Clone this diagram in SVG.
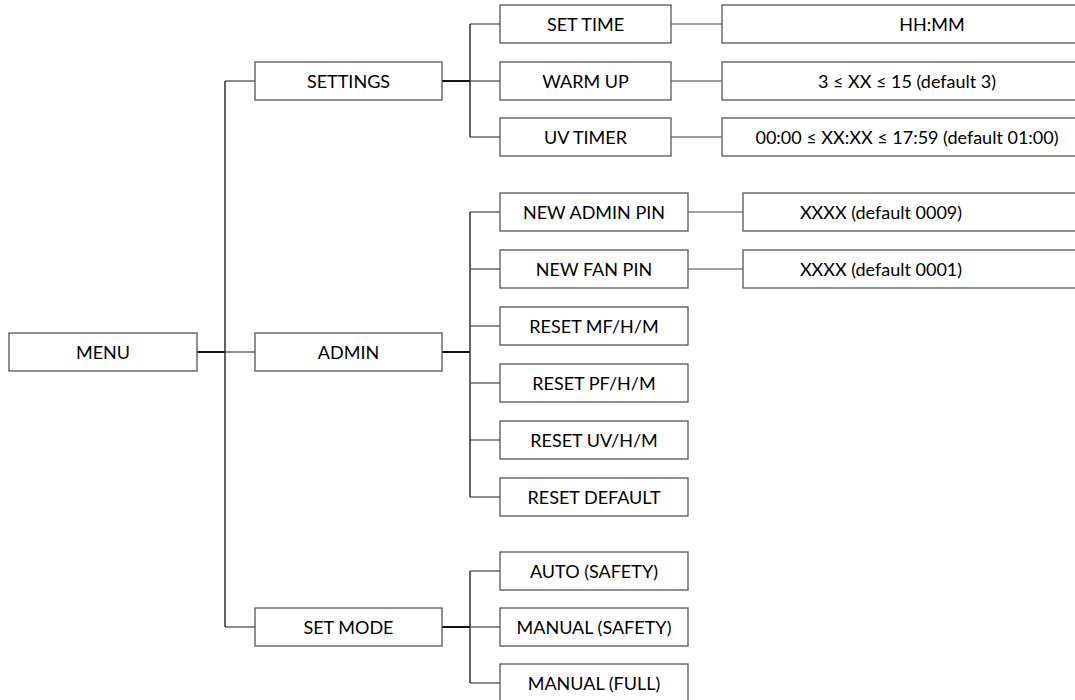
<svg xmlns="http://www.w3.org/2000/svg" width="1075" height="700" viewBox="0 0 1075 700">
<style>
.box{fill:#fff;stroke:#555;stroke-width:1.3}
.t{font-family:Lato,"Liberation Sans",sans-serif;font-size:18px;fill:#000;text-anchor:middle;dominant-baseline:central}
.ln{stroke:#444;stroke-width:1.2;fill:none}
.tk{stroke:#111;stroke-width:2;fill:none}
.tr{stroke:#222;stroke-width:1.4;fill:none}
</style>
<rect width="1075" height="700" fill="#fff"/>
<g id="connectors">
<line class="tk" x1="197" y1="352" x2="225" y2="352"/>
<line class="tr" x1="225" y1="81" x2="225" y2="627"/>
<line class="ln" x1="225" y1="81" x2="255" y2="81"/>
<line class="ln" x1="225" y1="352" x2="255" y2="352"/>
<line class="ln" x1="225" y1="627" x2="255" y2="627"/>
<line class="tk" x1="442" y1="81" x2="470" y2="81"/>
<line class="tk" x1="442" y1="352" x2="470" y2="352"/>
<line class="tk" x1="442" y1="627" x2="470" y2="627"/>
<line class="tr" x1="470" y1="24" x2="470" y2="137"/>
<line class="tr" x1="470" y1="212" x2="470" y2="497"/>
<line class="tr" x1="470" y1="571" x2="470" y2="683"/>
<line class="ln" x1="470" y1="24" x2="500" y2="24"/>
<line class="ln" x1="470" y1="81" x2="500" y2="81"/>
<line class="ln" x1="470" y1="137" x2="500" y2="137"/>
<line class="ln" x1="470" y1="212" x2="500" y2="212"/>
<line class="ln" x1="470" y1="269" x2="500" y2="269"/>
<line class="ln" x1="470" y1="326" x2="500" y2="326"/>
<line class="ln" x1="470" y1="383" x2="500" y2="383"/>
<line class="ln" x1="470" y1="440" x2="500" y2="440"/>
<line class="ln" x1="470" y1="497" x2="500" y2="497"/>
<line class="ln" x1="470" y1="571" x2="500" y2="571"/>
<line class="ln" x1="470" y1="627" x2="500" y2="627"/>
<line class="ln" x1="470" y1="683" x2="500" y2="683"/>
<line class="ln" x1="671" y1="24" x2="722" y2="24"/>
<line class="ln" x1="671" y1="81" x2="722" y2="81"/>
<line class="ln" x1="671" y1="137" x2="722" y2="137"/>
<line class="ln" x1="688" y1="212" x2="743" y2="212"/>
<line class="ln" x1="688" y1="269" x2="743" y2="269"/>
</g>
<g id="menu"><rect class="box" x="9" y="333" width="188" height="38"/><text class="t" x="103" y="352">MENU</text></g>
<g id="settings"><rect class="box" x="255" y="62" width="187" height="38"/><text class="t" x="348.5" y="81">SETTINGS</text></g>
<g id="admin"><rect class="box" x="255" y="333" width="187" height="38"/><text class="t" x="348.5" y="352">ADMIN</text></g>
<g id="setmode"><rect class="box" x="255" y="608" width="187" height="38"/><text class="t" x="348.5" y="627">SET MODE</text></g>
<g id="settime"><rect class="box" x="500" y="5" width="171" height="38"/><text class="t" x="585.5" y="24">SET TIME</text></g>
<g id="warmup"><rect class="box" x="500" y="62" width="171" height="38"/><text class="t" x="585.5" y="81">WARM UP</text></g>
<g id="uvtimer"><rect class="box" x="500" y="118" width="171" height="38"/><text class="t" x="585.5" y="137">UV TIMER</text></g>
<g id="hhmm"><rect class="box" x="722" y="5" width="420" height="38"/><text class="t" x="932" y="24">HH:MM</text></g>
<g id="warmupval"><rect class="box" x="722" y="62" width="420" height="38"/><text class="t" x="907" y="81">3 ≤ XX ≤ 15 (default 3)</text></g>
<g id="uvtimerval"><rect class="box" x="722" y="118" width="420" height="38"/><text class="t" x="907" y="137">00:00 ≤ XX:XX ≤ 17:59 (default 01:00)</text></g>
<g id="newadminpin"><rect class="box" x="500" y="193" width="188" height="38"/><text class="t" x="594" y="212">NEW ADMIN PIN</text></g>
<g id="newfanpin"><rect class="box" x="500" y="250" width="188" height="38"/><text class="t" x="594" y="269">NEW FAN PIN</text></g>
<g id="resetmf"><rect class="box" x="500" y="307" width="188" height="38"/><text class="t" x="594" y="326">RESET MF/H/M</text></g>
<g id="resetpf"><rect class="box" x="500" y="364" width="188" height="38"/><text class="t" x="594" y="383">RESET PF/H/M</text></g>
<g id="resetuv"><rect class="box" x="500" y="421" width="188" height="38"/><text class="t" x="594" y="440">RESET UV/H/M</text></g>
<g id="resetdefault"><rect class="box" x="500" y="478" width="188" height="38"/><text class="t" x="594" y="497">RESET DEFAULT</text></g>
<g id="adminpinval"><rect class="box" x="743" y="193" width="400" height="38"/><text class="t" x="881" y="212">XXXX (default 0009)</text></g>
<g id="fanpinval"><rect class="box" x="743" y="250" width="400" height="38"/><text class="t" x="881" y="269">XXXX (default 0001)</text></g>
<g id="auto"><rect class="box" x="500" y="552" width="188" height="38"/><text class="t" x="594" y="571">AUTO (SAFETY)</text></g>
<g id="manualsafety"><rect class="box" x="500" y="608" width="188" height="38"/><text class="t" x="594" y="627">MANUAL (SAFETY)</text></g>
<g id="manualfull"><rect class="box" x="500" y="664" width="188" height="38"/><text class="t" x="594" y="683">MANUAL (FULL)</text></g>
</svg>
